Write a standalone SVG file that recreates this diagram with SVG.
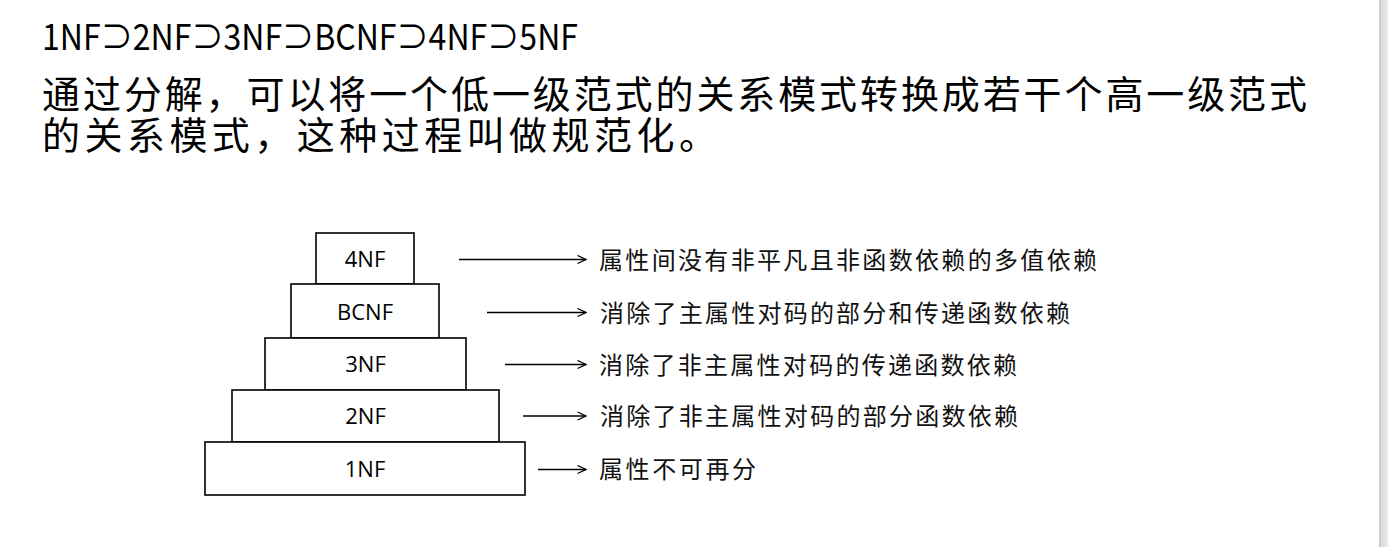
<svg xmlns="http://www.w3.org/2000/svg" width="1388" height="547" viewBox="0 0 1388 547">
  <style>
    .box { fill: #ffffff; stroke: #000000; stroke-width: 1.6; }
    .blabel { font-family: "Open Sans", "Liberation Sans", sans-serif; font-size: 22px; fill: #000000; text-anchor: middle; }
    .desc { font-family: "Noto Sans CJK SC", sans-serif; font-size: 24px; fill: #111111; }
    .title { font-family: "Noto Sans CJK SC", sans-serif; fill: #000000; }
    .conn { stroke: #000000; stroke-width: 1.3; fill: none; }
  </style>
  <defs>
    <marker id="arrow" viewBox="0 0 10 10" refX="9.5" refY="5" markerWidth="10" markerHeight="10" markerUnits="userSpaceOnUse" orient="auto">
      <path d="M1,1 L9.5,5 L1,9" fill="none" stroke="#000000" stroke-width="1.3"/>
    </marker>
    <linearGradient id="edge" x1="0" y1="0" x2="1" y2="0">
      <stop offset="0" stop-color="#c4c4c4"/>
      <stop offset="0.3" stop-color="#dcdcdc"/>
      <stop offset="1" stop-color="#ececec"/>
    </linearGradient>
  </defs>
  <rect x="0" y="0" width="1388" height="547" fill="#ffffff"/>
  <rect x="1379" y="0" width="9" height="547" fill="url(#edge)"/>

  <g id="title">
    <text class="title" x="42" y="50" font-size="36" textLength="536" lengthAdjust="spacingAndGlyphs">1NF⊃2NF⊃3NF⊃BCNF⊃4NF⊃5NF</text>
    <text class="title" font-size="38"><tspan x="42" y="108" textLength="1265" lengthAdjust="spacing">通过分解，可以将一个低一级范式的关系模式转换成若干个高一级范式</tspan><tspan x="42" y="149" textLength="675" lengthAdjust="spacing">的关系模式，这种过程叫做规范化。</tspan></text>
  </g>

  <g id="node-4NF">
    <rect class="box" x="316" y="233" width="98" height="51"/>
    <text class="blabel" x="365" y="267">4NF</text>
  </g>
  <g id="node-BCNF">
    <rect class="box" x="291" y="284" width="148" height="54"/>
    <text class="blabel" x="365" y="319.5">BCNF</text>
  </g>
  <g id="node-3NF">
    <rect class="box" x="265" y="338" width="201" height="52"/>
    <text class="blabel" x="365.5" y="372">3NF</text>
  </g>
  <g id="node-2NF">
    <rect class="box" x="232" y="390" width="267" height="52"/>
    <text class="blabel" x="365.5" y="424">2NF</text>
  </g>
  <g id="node-1NF">
    <rect class="box" x="205" y="442" width="320" height="53"/>
    <text class="blabel" x="365" y="476.5">1NF</text>
  </g>

  <g id="connectors">
    <line class="conn" x1="459" y1="259.5" x2="586" y2="259.5" marker-end="url(#arrow)"/>
    <line class="conn" x1="487" y1="312.5" x2="586" y2="312.5" marker-end="url(#arrow)"/>
    <line class="conn" x1="505" y1="364.5" x2="586" y2="364.5" marker-end="url(#arrow)"/>
    <line class="conn" x1="523" y1="416" x2="586" y2="416" marker-end="url(#arrow)"/>
    <line class="conn" x1="538" y1="469.5" x2="586" y2="469.5" marker-end="url(#arrow)"/>
  </g>

  <g id="labels">
    <text class="desc" x="599" y="268.5" textLength="498" lengthAdjust="spacing">属性间没有非平凡且非函数依赖的多值依赖</text>
    <text class="desc" x="600" y="321.5" textLength="470" lengthAdjust="spacing">消除了主属性对码的部分和传递函数依赖</text>
    <text class="desc" x="599" y="373.5" textLength="418" lengthAdjust="spacing">消除了非主属性对码的传递函数依赖</text>
    <text class="desc" x="600" y="425" textLength="418" lengthAdjust="spacing">消除了非主属性对码的部分函数依赖</text>
    <text class="desc" x="599" y="478" textLength="157" lengthAdjust="spacing">属性不可再分</text>
  </g>
</svg>
